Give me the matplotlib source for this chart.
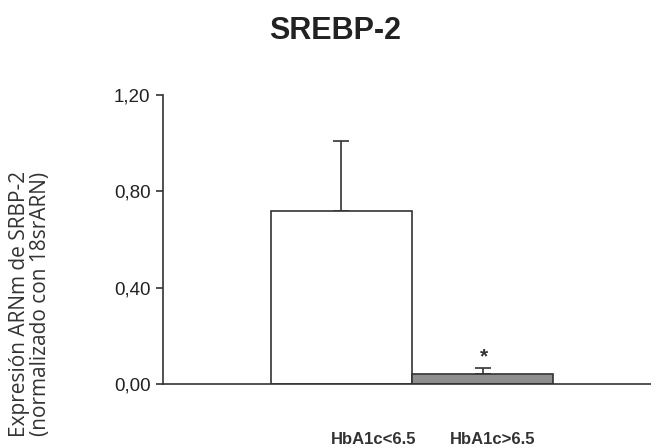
import numpy as np
import matplotlib.pyplot as plt

# --- Data ---
groups = ["HbA1c<6.5", "HbA1c>6.5"]
means = [0.72, 0.04]
err_up = [0.29, 0.025]
yticks = [0.0, 0.4, 0.8, 1.2]
ytick_labels = ["0,00", "0,40", "0,80", "1,20"]

fig = plt.figure(figsize=(6.51, 4.48), dpi=100)
ax = fig.add_axes([0.2504, 0.1429, 0.7496, 0.645])

x = np.arange(len(groups))
ax.bar(x, means, width=1.0, color=["white", "#8e8e8e"], edgecolor="#333333",
       linewidth=1.2, zorder=2)
ax.errorbar(x, means, yerr=[np.zeros(len(means)), err_up], fmt="none",
            ecolor="#333333", elinewidth=1.2, capsize=5.5, capthick=1.2, zorder=1)

# significance mark
ax.text(1.01, means[1] + err_up[1] + 0.01, "*", ha="center", va="bottom",
        fontsize=15, fontweight="bold", color="#333333", family="Liberation Sans")

ax.set_xlim(-1.26, 2.19)
ax.set_ylim(0, 1.2)
ax.set_yticks(yticks)
ax.set_yticklabels(ytick_labels, fontsize=13.5, family="Liberation Sans", color="#222222")
ax.set_xticks([])
for side in ["top", "right"]:
    ax.spines[side].set_visible(False)
for side in ["left", "bottom"]:
    ax.spines[side].set_color("#333333")
    ax.spines[side].set_linewidth(1.2)
ax.tick_params(axis="y", direction="out", length=5, width=1.2, color="#333333", pad=4)

# group labels (offset below the axis like in the original)
for xi, lab in zip([0.23, 1.07], groups):
    ax.text(xi, -0.23, lab, ha="center", va="center", fontsize=12, fontweight="bold",
            family="Liberation Sans", color="#333333")

fig.text(0.515, 0.931, "SREBP-2", ha="center", va="center", fontsize=22,
         fontweight="bold", family="Liberation Sans", color="#222222")
fig.text(0.046, 0.321, "Expresión ARNm de SRBP-2\n(normalizado con 18srARN)",
         rotation=90, ha="center", va="center", fontsize=15, linespacing=1.0,
         family="Open Sans", color="#333333")

fig.savefig("out.png", dpi=100)
